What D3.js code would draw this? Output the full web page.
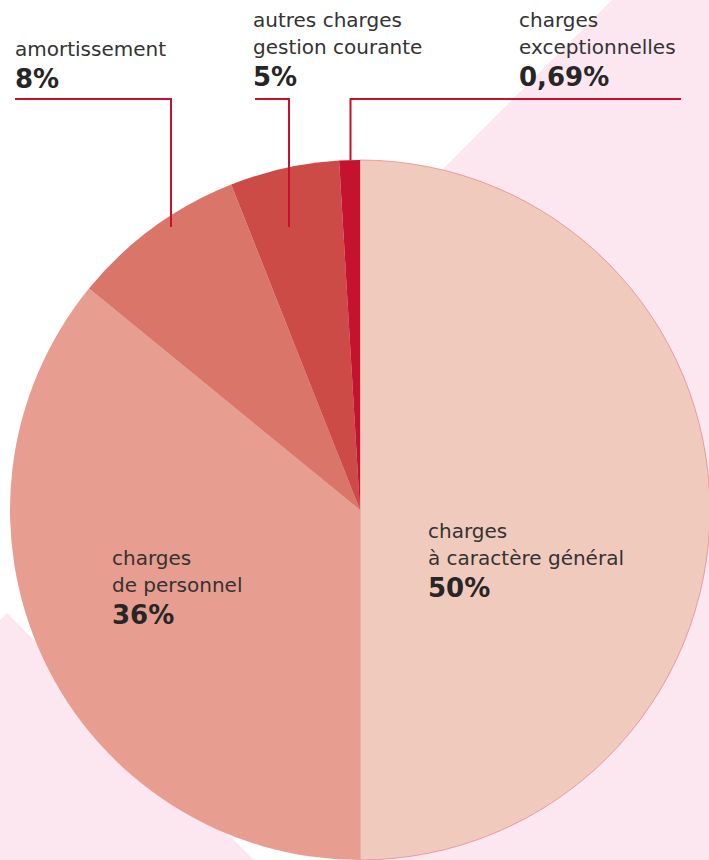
<!DOCTYPE html>
<html>
<head>
<meta charset="utf-8">
<script src="https://cdn.jsdelivr.net/npm/d3@7"></script>
<style>
  html, body { margin: 0; padding: 0; background: #ffffff; }
  svg { display: block; }
  text { font-family: "DejaVu Sans", sans-serif; }
</style>
</head>
<body>
<svg id="chart" width="709" height="860"></svg>
<script>
// ---- Data ----
const categories = [
  "charges à caractère général",
  "charges de personnel",
  "amortissement",
  "autres charges gestion courante",
  "charges exceptionnelles"
];
// label lines as printed
const labelLines = [
  ["charges", "à caractère général"],
  ["charges", "de personnel"],
  ["amortissement"],
  ["autres charges", "gestion courante"],
  ["charges", "exceptionnelles"]
];
// printed percentages
const percentLabels = ["50%", "36%", "8%", "5%", "0,69%"];
const shares = [50, 35.9, 8.1, 5.05, 0.95];
const colors = ["#f1cabe", "#e79d8f", "#d97569", "#cd4b47", "#c4122f"];

// ---- Layout ----
const W = 709, H = 860;
const cx = 360, cy = 510, R = 350;
const lineColor = "#c8102e";
const textColor = "#333333";

// label layout: text anchor x, first baseline y; leader line (horizontal y, x-start, x-end (vertical), vertical end y or "edge")
const labelLayout = [
  { x: 428, y: 538, leader: null },
  { x: 112, y: 565, leader: null },
  { x: 15, y: 56, leader: { y: 99, x0: 15, xv: 171, yEnd: 227 } },
  { x: 253, y: 27, leader: { y: 99, x0: 255, xv: 289, yEnd: 227 } },
  { x: 519, y: 27, leader: { y: 99, x0: 681, xv: 350.5, yEnd: "edge" } }
];

const svg = d3.select("#chart");

// background pink shapes
const bg = "#fce7f0";
const bgShapes = [
  [[612, 0], [709, 0], [709, 860], [360, 860], [56, 556]],
  [[7, 613], [0, 620], [0, 860], [254, 860]]
];
svg.append("g").selectAll("path").data(bgShapes).join("path")
  .attr("d", d => d3.line()(d) + "Z")
  .attr("fill", bg);

// pie
const pie = d3.pie().sort(null).value(d => d).startAngle(0).endAngle(2 * Math.PI);
const arcs = pie(shares);
const arc = d3.arc().innerRadius(0).outerRadius(R);

const g = svg.append("g").attr("transform", `translate(${cx},${cy})`);
g.selectAll("path").data(arcs).join("path")
  .attr("d", arc)
  .attr("fill", (d, i) => colors[i])
  .attr("stroke", (d, i) => i === 0 ? "#e58a8f" : "none")
  .attr("stroke-width", 0.8);

// leader lines
labelLayout.forEach((L, i) => {
  if (!L.leader) return;
  const ld = L.leader;
  let yEnd = ld.yEnd;
  if (yEnd === "edge") {
    const dx = ld.xv - cx;
    yEnd = cy - Math.sqrt(R * R - dx * dx);
  }
  svg.append("path")
    .attr("d", d3.line()([[ld.x0, ld.y], [ld.xv, ld.y], [ld.xv, yEnd]]))
    .attr("fill", "none")
    .attr("stroke", lineColor)
    .attr("stroke-width", 2);
});

// labels
labelLayout.forEach((L, i) => {
  const t = svg.append("g");
  const lines = labelLines[i];
  lines.forEach((s, k) => {
    t.append("text")
      .attr("x", L.x)
      .attr("y", L.y + k * 27)
      .attr("font-size", 20)
      .attr("fill", textColor)
      .text(s);
  });
  t.append("text")
    .attr("x", L.x)
    .attr("y", L.y + (lines.length - 1) * 27 + 32)
    .attr("font-size", 26)
    .attr("font-weight", "bold")
    .attr("fill", "#262626")
    .text(percentLabels[i]);
});
</script>
</body>
</html>
